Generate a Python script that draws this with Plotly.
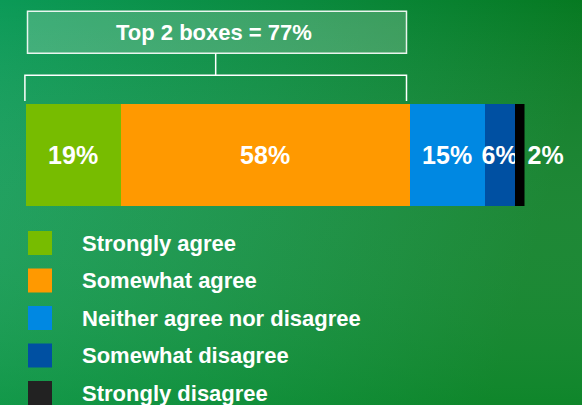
import plotly.graph_objects as go

categories = ["Strongly agree", "Somewhat agree", "Neither agree nor disagree",
              "Somewhat disagree", "Strongly disagree"]
values = [19, 58, 15, 6, 2]
colors = ["#77bc00", "#ff9900", "#0088e2", "#0050a2", "#000000"]
labels = [f"{v}%" for v in values]

W, H = 582, 405
FONT = "Liberation Sans Narrow, Arial Narrow, Liberation Sans, Arial"

def px(x):
    return x / W

def py(y):
    return 1 - y / H

fig = go.Figure()
for i, (c, v, col, lab) in enumerate(zip(categories, values, colors, labels)):
    last = i == len(values) - 1
    fig.add_trace(go.Bar(
        y=["q"], x=[v], orientation="h", name=c,
        marker=dict(color=col, line=dict(width=0)),
        text=[lab], textposition="outside" if last else "inside",
        insidetextanchor="middle", constraintext="none", textangle=0,
        textfont=dict(family=FONT, size=25, color="white", weight="bold"),
        cliponaxis=False, showlegend=False,
    ))

svg = ("data:image/svg+xml;utf8,<svg xmlns='http://www.w3.org/2000/svg' width='582' height='405'>"
       "<defs><linearGradient id='g' x1='0' y1='0' x2='1' y2='0.2'>"
       "<stop offset='0' stop-color='%230b9a57'/><stop offset='0.5' stop-color='%230a8a3e'/>"
       "<stop offset='1' stop-color='%2306781f'/></linearGradient>"
       "<linearGradient id='h' x1='0' y1='0' x2='0' y2='1'>"
       "<stop offset='0' stop-color='%23ffffff' stop-opacity='0'/>"
       "<stop offset='1' stop-color='%2320a040' stop-opacity='0.35'/></linearGradient></defs>"
       "<rect width='582' height='405' fill='url(%23g)'/>"
       "<rect width='582' height='405' fill='url(%23h)'/></svg>")

top2 = values[0] + values[1]

shapes = [
    dict(type="rect", xref="paper", yref="paper", x0=px(27.5), x1=px(406.5),
         y0=py(53.3), y1=py(11.3), fillcolor="rgba(255,255,255,0.2)",
         line=dict(color="rgba(255,255,255,0.9)", width=1.5), layer="above"),
    dict(type="line", xref="x", yref="paper", x0=top2 / 2 - 0.4, x1=top2 / 2 - 0.4,
         y0=py(53.3), y1=py(75.3), line=dict(color="white", width=1.5)),
    dict(type="path", xref="paper", yref="paper",
         path=f"M {px(24.9)},{py(101)} L {px(24.9)},{py(75.3)} L {px(406.5)},{py(75.3)} L {px(406.5)},{py(101)}",
         line=dict(color="white", width=1.5)),
]

annotations = [
    dict(text=f"<b>Top 2 boxes = {top2}%</b>", xref="paper", yref="paper",
         x=px(214), y=py(32.5), showarrow=False,
         font=dict(family=FONT, size=22, color="white"),
         xanchor="center", yanchor="middle"),
]

row0, step, sq = 231, 37.5, 24
for i, (c, col) in enumerate(zip(categories, colors)):
    top = row0 + i * step
    shapes.append(dict(type="rect", xref="paper", yref="paper",
                       x0=px(28), x1=px(52), y0=py(top + sq), y1=py(top),
                       fillcolor=col if col != "#000000" else "#222222",
                       line=dict(width=0)))
    annotations.append(dict(text=f"<b>{c}</b>", xref="paper", yref="paper",
                            x=px(80), y=py(top + 12), showarrow=False,
                            xanchor="left", yanchor="middle",
                            font=dict(family=FONT, size=22, color="white")))

fig.update_layout(
    width=W, height=H, barmode="stack", bargap=0,
    margin=dict(l=0, r=0, t=0, b=0),
    paper_bgcolor="#0a8a42", plot_bgcolor="rgba(0,0,0,0)",
    xaxis=dict(domain=[px(25.6), px(524.5)], range=[0, 100], visible=False, fixedrange=True),
    yaxis=dict(domain=[py(206), py(104)], visible=False, fixedrange=True),
    images=[dict(source=svg, xref="paper", yref="paper", x=0, y=1, sizex=1, sizey=1,
                 sizing="stretch", layer="below", xanchor="left", yanchor="top")],
    shapes=shapes, annotations=annotations, showlegend=False,
)

fig.write_html("out.html", config={"displayModeBar": False})
